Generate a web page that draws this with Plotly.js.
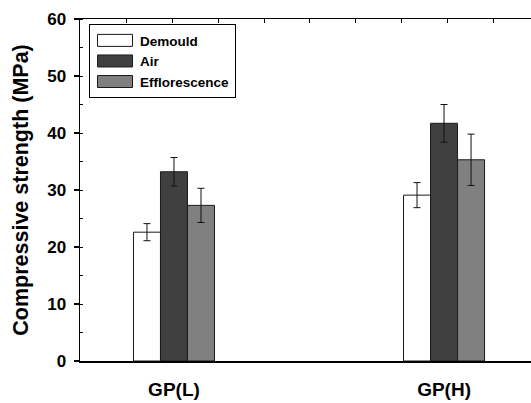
<!DOCTYPE html>
<html>
<head>
<meta charset="utf-8">
<script src="https://cdn.plot.ly/plotly-3.0.1.min.js"></script>
<style>html,body{margin:0;padding:0;background:#fff;overflow:hidden}#chart{width:531px;height:403px}</style>
</head>
<body>
<div id="chart"></div>
<script>
const categories = ['GP(L)', 'GP(H)'];
const seriesNames = ['Demould', 'Air', 'Efflorescence'];
const demould = [22.6, 29.1];
const demouldErr = [1.5, 2.2];
const air = [33.2, 41.7];
const airErr = [2.5, 3.3];
const efflorescence = [27.3, 35.3];
const efflorescenceErr = [3.0, 4.5];
const colors = ['#ffffff', '#404040', '#808080'];

const values = [demould, air, efflorescence];
const errs = [demouldErr, airErr, efflorescenceErr];
const FONT = 'Liberation Sans, Arial, sans-serif';

const traces = seriesNames.map((name, i) => ({
  type: 'bar',
  name: name,
  x: categories,
  y: values[i],
  marker: {color: colors[i], line: {color: '#1a1a1a', width: 1}},
  error_y: {type: 'data', array: errs[i], visible: true, color: '#111', thickness: 1, width: 3.5}
}));
// carrier for the top tick-mark axis (draws nothing)
traces.push({type: 'scatter', mode: 'markers', x: [null], y: [null], xaxis: 'x2', yaxis: 'y', showlegend: false, hoverinfo: 'skip'});

const layout = {
  width: 531, height: 403,
  margin: {l: 80, r: 0, t: 19, b: 42},
  paper_bgcolor: '#fff', plot_bgcolor: '#fff',
  barmode: 'group', bargap: 0.7, bargroupgap: 0,
  showlegend: true,
  legend: {
    x: 0.02, y: 0.985, xanchor: 'left', yanchor: 'top',
    bordercolor: '#000', borderwidth: 1, bgcolor: '#fff',
    itemwidth: 40,
    font: {family: FONT, size: 13.5, weight: 'bold', color: '#000'},
    tracegroupgap: 0
  },
  xaxis: {
    type: 'category', range: [-0.348, 1.322],
    showline: true, linecolor: '#000', linewidth: 1.5, mirror: true,
    ticks: '', showgrid: false, zeroline: false,
    tickfont: {family: FONT, size: 19, weight: 'bold', color: '#000'},
    ticklabelstandoff: 11
  },
  xaxis2: {
    overlaying: 'x', side: 'top', anchor: 'y', type: 'linear',
    range: [-0.348, 1.322], tickmode: 'linear', tick0: -0.175, dtick: 0.1696,
    ticks: 'inside', ticklen: 4, tickwidth: 1, tickcolor: '#000',
    showticklabels: false, showgrid: false, zeroline: false, showline: false
  },
  yaxis: {
    range: [0, 60], dtick: 10, tick0: 0,
    showline: true, linecolor: '#000', linewidth: 1.5, mirror: false,
    ticks: 'outside', ticklen: 5, tickwidth: 1.5, tickcolor: '#000',
    minor: {dtick: 5, ticks: 'inside', ticklen: 3, tickwidth: 1, tickcolor: '#000', showgrid: false},
    showgrid: false, zeroline: false,
    ticklabelstandoff: 4,
    tickfont: {family: FONT, size: 17, weight: 'bold', color: '#000'},
    title: {text: 'Compressive strength (MPa)', standoff: 12,
      font: {family: FONT, size: 21.5, weight: 'bold', color: '#000'}}
  }
};

Plotly.newPlot('chart', traces, layout, {displayModeBar: false, staticPlot: true}).then(gd => {
  // widen the legend swatches to match the original figure's rectangles
  gd.querySelectorAll('.legend .legendpoints path').forEach(p => {
    p.setAttribute('d', 'M17.5,6H-17.5V-6H17.5Z');
  });
});
</script>
</body>
</html>
